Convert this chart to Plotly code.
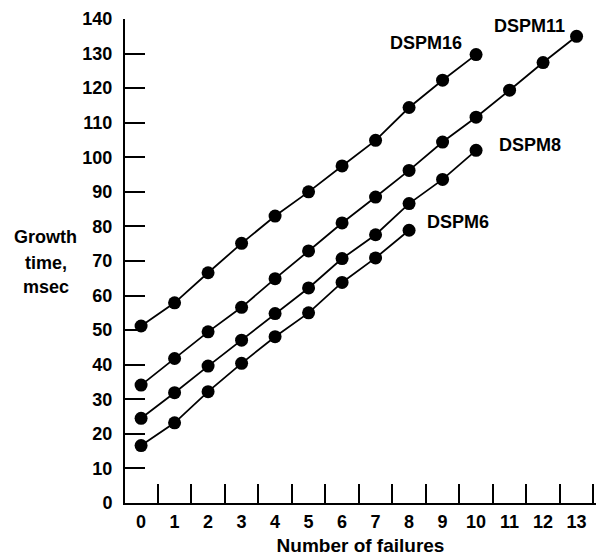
import plotly.graph_objects as go

failures_16 = [0, 1, 2, 3, 4, 5, 6, 7, 8, 9, 10]
dspm16 = [51.2, 57.9, 66.6, 75.1, 83.0, 90.0, 97.5, 104.9, 114.4, 122.3, 129.7]

failures_11 = [0, 1, 2, 3, 4, 5, 6, 7, 8, 9, 10, 11, 12, 13]
dspm11 = [34.1, 41.8, 49.5, 56.6, 64.9, 72.9, 81.0, 88.5, 96.2, 104.4, 111.6, 119.4, 127.4, 135.0]

failures_8 = [0, 1, 2, 3, 4, 5, 6, 7, 8, 9, 10]
dspm8 = [24.5, 31.9, 39.6, 47.1, 54.8, 62.2, 70.7, 77.6, 86.6, 93.6, 102.0]

failures_6 = [0, 1, 2, 3, 4, 5, 6, 7, 8]
dspm6 = [16.6, 23.2, 32.2, 40.4, 48.1, 55.0, 63.8, 70.9, 78.9]

x_labels = [str(i) for i in range(14)]
x_label_vals = list(range(14))
x_tick_vals = [i + 0.5 for i in range(14)]
y_tick_vals = list(range(0, 141, 10))

series = [
    ("DSPM16", failures_16, dspm16),
    ("DSPM11", failures_11, dspm11),
    ("DSPM8", failures_8, dspm8),
    ("DSPM6", failures_6, dspm6),
]
label_pos = {
    "DSPM16": (8.5, 133.0),
    "DSPM11": (11.6, 137.9),
    "DSPM8": (11.6, 103.5),
    "DSPM6": (9.45, 81.2),
}

FONT = "Liberation Sans"

fig = go.Figure()
for name, xs, ys in series:
    fig.add_trace(go.Scatter(
        x=xs, y=ys, mode="lines+markers", name=name,
        line=dict(color="black", width=1.8),
        marker=dict(color="black", size=13),
        cliponaxis=False, showlegend=False,
    ))

for name, (ax, ay) in label_pos.items():
    fig.add_annotation(x=ax, y=ay, xref="x", yref="y", text="<b>%s</b>" % name,
                       showarrow=False, font=dict(family=FONT, size=18, color="black"),
                       xanchor="center", yanchor="middle")

for txt, py in [("Growth", 0.550), ("time,", 0.496), ("msec", 0.447)]:
    fig.add_annotation(x=-0.168, y=py, xref="paper", yref="paper", text="<b>%s</b>" % txt,
                       showarrow=False, font=dict(family=FONT, size=18, color="black"),
                       xanchor="center", yanchor="middle")

fig.update_layout(
    width=608, height=559,
    margin=dict(l=117, r=20, t=11, b=64, autoexpand=False),
    paper_bgcolor="white", plot_bgcolor="white",
    font=dict(family=FONT, size=18, color="black"),
    xaxis=dict(
        range=[-0.48, 13.58], showgrid=False, zeroline=False, automargin=False,
        showline=True, linecolor="black", linewidth=2,
        tickmode="array", tickvals=x_label_vals, ticktext=["<b>%s</b>" % t for t in x_labels],
        ticks="", ticklabelstandoff=1,
        minor=dict(tickmode="array", tickvals=x_tick_vals, ticks="inside",
                   ticklen=19, tickwidth=1.5, tickcolor="black"),
        title=dict(text="<b>Number of failures</b>", font=dict(size=19), standoff=8),
    ),
    yaxis=dict(
        range=[0, 140], showgrid=False, zeroline=False, automargin=False,
        showline=True, linecolor="black", linewidth=2,
        tickmode="array", tickvals=y_tick_vals, ticktext=["<b>%d</b>" % v for v in y_tick_vals],
        ticks="inside", ticklen=20, tickwidth=1.5, tickcolor="black",
        ticklabelstandoff=7,
    ),
)

fig.write_html("out.html")
